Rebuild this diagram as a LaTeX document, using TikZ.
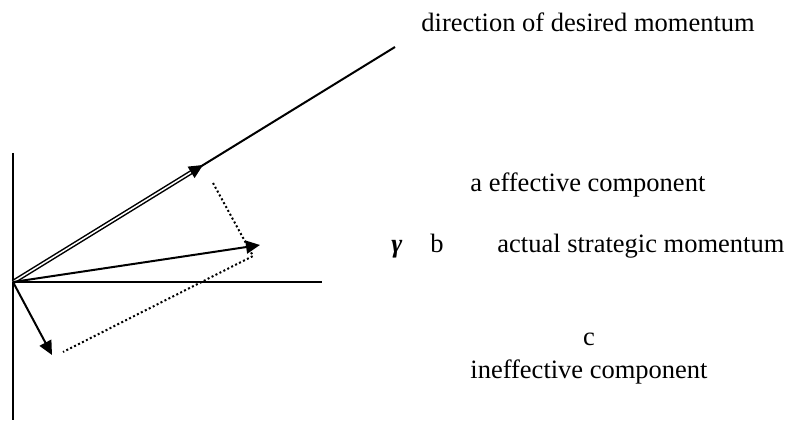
\documentclass[tikz,border=0pt]{standalone}
\usepackage{fontspec}
\setmainfont{Liberation Serif}
\usetikzlibrary{arrows.meta}

\begin{document}
\begin{tikzpicture}[x=0.5pt,y=-0.5pt,
  axis/.style={line width=1pt},
  vec/.style={line width=1pt, -{Triangle[length=7pt,width=6.5pt]}},
  proj/.style={line width=1pt, dash pattern=on 1pt off 1.2pt},
  lbl/.style={font=\fontsize{13.25}{15.5}\selectfont, inner sep=0pt}]
  \path[use as bounding box] (0,0) rectangle (787,422);
  % points
  \coordinate (O) at (13,282);
  \coordinate (ytop) at (13,153);
  \coordinate (ybot) at (13,420);
  \coordinate (xend) at (322,282);
  \coordinate (D) at (395,47);
  \coordinate (A) at (203,165);
  \coordinate (B) at (260,245);
  \coordinate (C) at (52,355);
  \coordinate (Q) at (213,183);
  \coordinate (P) at (253,256);
  \coordinate (R) at (63,352);
  % axes and direction line
  \draw[axis] (ytop) -- (ybot);
  \draw[axis] (O) -- (xend);
  \draw[axis] (O) -- (D);
  % components
  \draw[proj] (Q) -- (P) -- (R);
  \draw[vec, line width=0.75pt, double, double distance=0.75pt] (O) -- (A);
  \draw[vec] (O) -- (B);
  \draw[vec] (O) -- (C);
  % labels
  \node[lbl, anchor=base west] (title) at (421,32) {direction of desired momentum};
  \node[lbl, anchor=base west] (alabel) at (470,192) {a effective component};
  \node[lbl, anchor=base west] (gamma) at (391,253) {\textbf{\textit{γ}}};
  \node[lbl, anchor=base west] (blabel) at (430,253) {b};
  \node[lbl, anchor=base west] (bdesc) at (497,253) {actual strategic momentum};
  \node[lbl, anchor=base] (clabel) at (589,345) {c};
  \node[lbl, anchor=base] (cdesc) at (589,378) {ineffective component};
\end{tikzpicture}
\end{document}
